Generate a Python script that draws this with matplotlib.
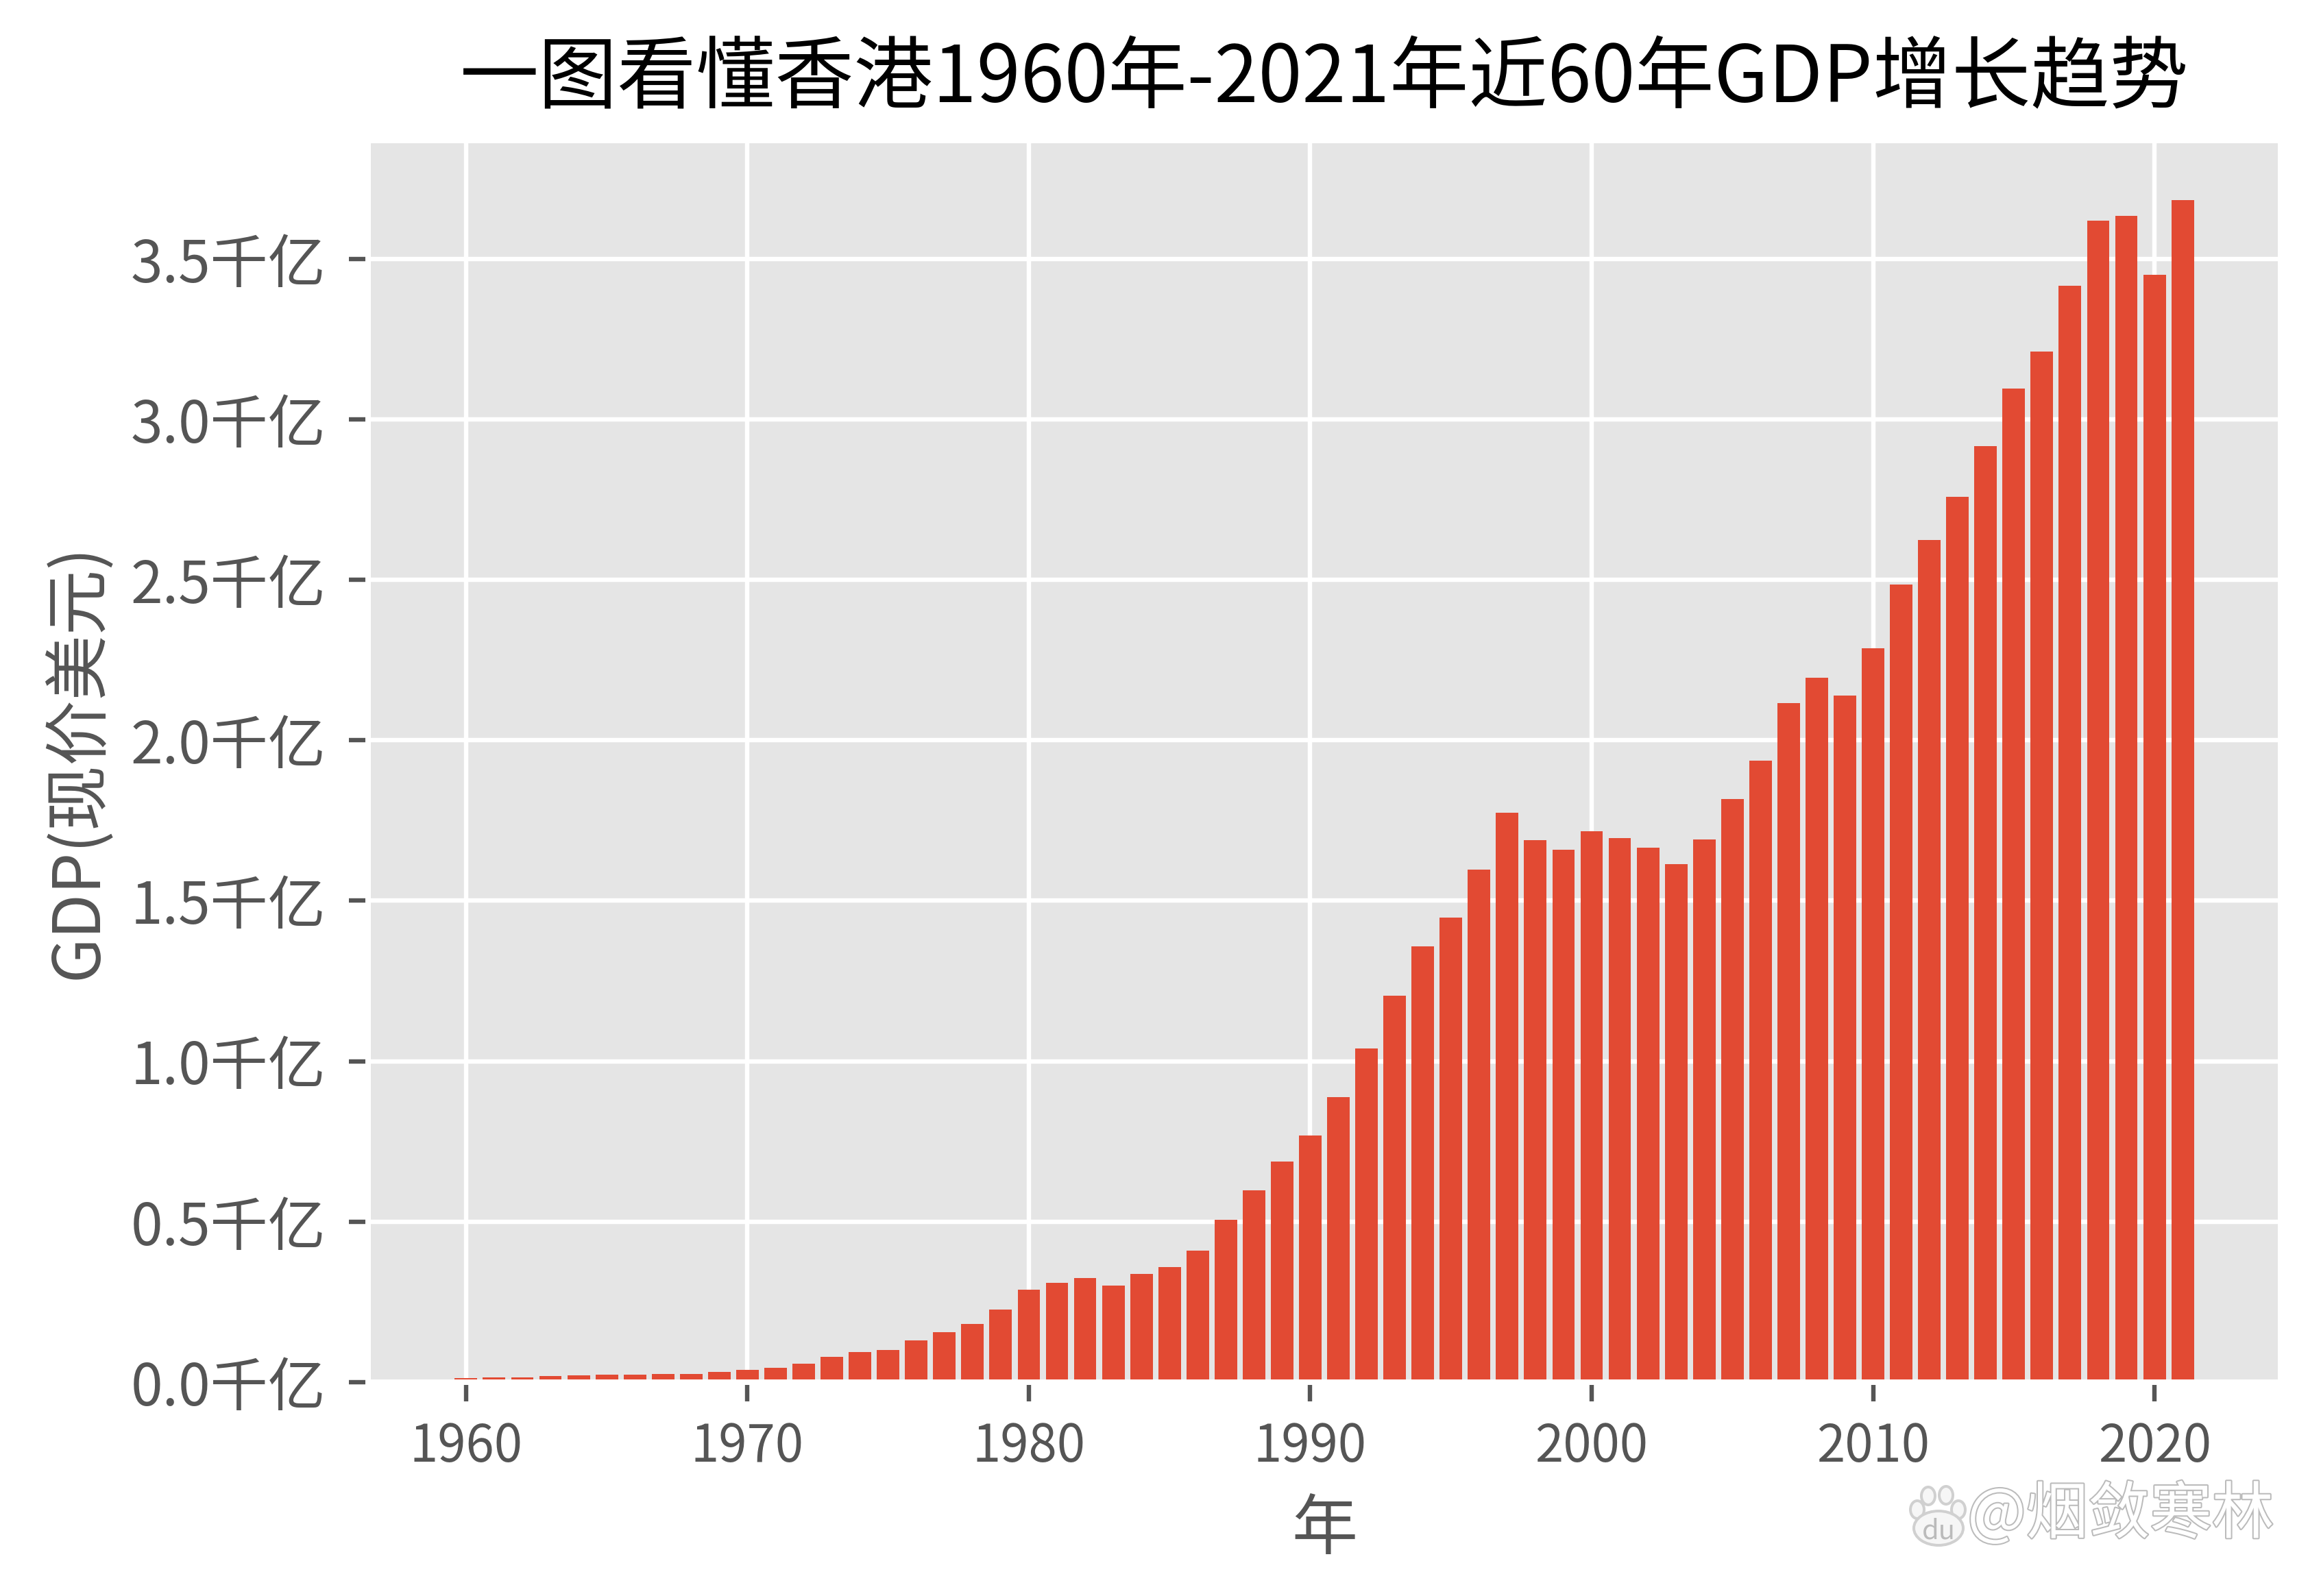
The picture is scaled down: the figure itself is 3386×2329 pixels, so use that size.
import matplotlib
matplotlib.use("Agg")
import matplotlib.pyplot as plt
import matplotlib.patheffects as pe
from matplotlib.patches import Ellipse

plt.style.use('ggplot')
plt.rcParams['font.family'] = ['Noto Sans CJK SC', 'DejaVu Sans']
plt.rcParams['axes.unicode_minus'] = False

W = 3386
H = 2329

years = list(range(1960, 2022))
gdp = [0.0135, 0.014, 0.016, 0.020, 0.022, 0.024, 0.024, 0.026, 0.026, 0.033,
       0.039, 0.045, 0.058, 0.080, 0.095, 0.100, 0.130, 0.155, 0.182, 0.227,
       0.288, 0.310, 0.325, 0.300, 0.337, 0.358, 0.410, 0.506, 0.597, 0.688,
       0.769, 0.888, 1.040, 1.204, 1.358, 1.448, 1.597, 1.774, 1.689, 1.659,
       1.717, 1.695, 1.666, 1.614, 1.691, 1.817, 1.937, 2.117, 2.195, 2.140,
       2.287, 2.486, 2.625, 2.758, 2.917, 3.096, 3.212, 3.417, 3.620, 3.634,
       3.451, 3.684]
ytick_vals = [0.0, 0.5, 1.0, 1.5, 2.0, 2.5, 3.0, 3.5]
ytick_labels = ['%.1f千亿' % v for v in ytick_vals]
xtick_vals = [1960, 1970, 1980, 1990, 2000, 2010, 2020]

fig = plt.figure(figsize=(W / 576, H / 576), dpi=576)
ax = fig.add_axes([537 / W, 1 - 2017 / H, (3327 - 537) / W, (2017 - 205) / H])
ax.bar(years, gdp, color='#E24A33')
ax.set_xlim(1956.52, 2024.48)
ax.set_ylim(0, 3.869)
ax.set_xticks(xtick_vals)
ax.set_yticks(ytick_vals)
ax.set_yticklabels(ytick_labels)
ax.tick_params(axis='x', labelsize=9.3, colors='#555555')
ax.tick_params(axis='y', labelsize=10.5, colors='#555555', pad=4.2)
ax.set_xlabel('年', fontsize=12, color='#555555')
ax.set_ylabel('GDP(现价美元)', fontsize=11.9, color='#555555', labelpad=3.5)
ax.set_title('一图看懂香港1960年-2021年近60年GDP增长趋势', fontsize=14.4, color='black', pad=7)


def paw(x, y, w, h):
    fig.add_artist(Ellipse((x / W, 1 - y / H), w / W, h / H, transform=fig.transFigure,
                           facecolor='#f6f6f6', edgecolor='#d0d0d0', linewidth=0.5))


# baidu watermark
paw(2813, 2183, 20, 26)
paw(2839, 2182, 20, 26)
paw(2797, 2203, 20, 26)
paw(2857, 2203, 20, 26)
paw(2828, 2230, 72, 50)
fig.text(2828 / W, 1 - 2234 / H, 'du', fontsize=5, color='#bbbbbb', ha='center', va='center')
fig.text(3317 / W, 1 - 2212 / H, '@烟敛寒林', fontsize=11.3, color='white', ha='right', va='center',
         path_effects=[pe.withStroke(linewidth=0.5, foreground='#bbbbbb')])

fig.savefig('out.png', dpi=576)
